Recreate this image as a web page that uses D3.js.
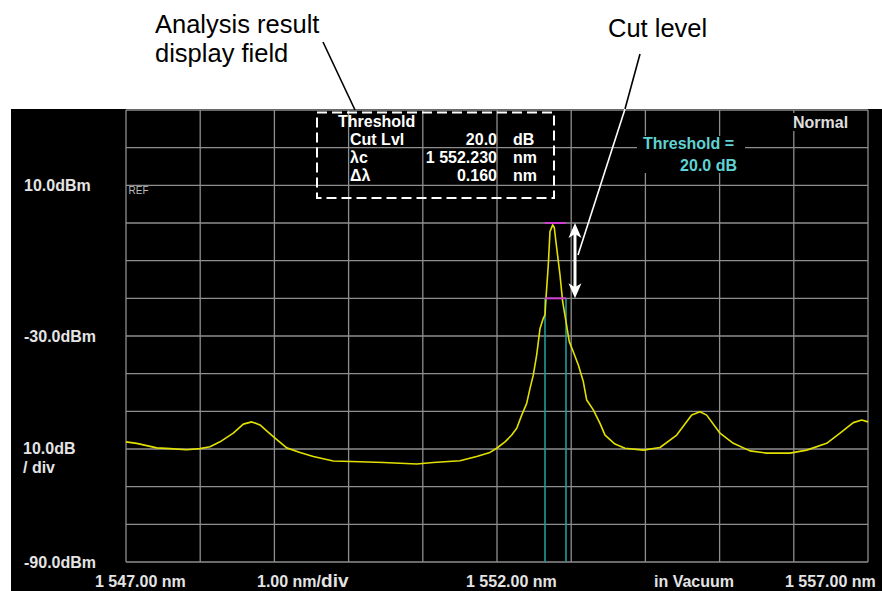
<!DOCTYPE html>
<html>
<head>
<meta charset="utf-8">
<script src="https://cdn.jsdelivr.net/npm/d3@7/dist/d3.min.js"></script>
<style>
  html, body { margin: 0; padding: 0; background: #fff; }
  svg { display: block; font-family: "Liberation Sans", Arial, sans-serif; }
</style>
</head>
<body>
<svg id="chart" width="882" height="591"></svg>
<script>
// ---- data ----
const wavelength = [
  1547.000, 1547.144, 1547.414, 1547.593, 1547.818, 1547.997, 1548.132, 1548.267,
  1548.446, 1548.581, 1548.694, 1548.806, 1548.896, 1548.985, 1549.166, 1549.345,
  1549.524, 1549.794, 1550.154, 1550.468, 1550.918, 1551.141, 1551.501, 1551.726,
  1551.906, 1551.996, 1552.108, 1552.198, 1552.266, 1552.333, 1552.400, 1552.445,
  1552.489, 1552.535, 1552.580, 1552.624, 1552.647, 1552.660, 1552.691, 1552.714,
  1552.751, 1552.772, 1552.805, 1552.849, 1552.885, 1552.930, 1552.974, 1553.028,
  1553.096, 1553.163, 1553.209, 1553.298, 1553.388, 1553.456, 1553.590, 1553.725,
  1553.972, 1554.197, 1554.422, 1554.624, 1554.736, 1554.826, 1555.005, 1555.185,
  1555.410, 1555.635, 1555.949, 1556.174, 1556.443, 1556.623, 1556.802, 1556.915,
  1557.000
];
const power = [
  -58.1, -58.5, -59.7, -59.9, -60.2, -59.9, -59.4, -58.1,
  -55.8, -53.4, -52.8, -53.6, -55.2, -56.7, -59.7, -60.9,
  -62.0, -63.2, -63.4, -63.6, -64.0, -63.6, -63.1, -62.0,
  -60.9, -59.8, -58.1, -56.3, -54.5, -51.0, -47.9, -43.9,
  -40.4, -35.0, -28.0, -25.3, -24.4, -20.0, -11.2, -2.3,
  -0.5, -1.2, -6.7, -13.8, -20.9, -26.2, -31.5, -34.2,
  -37.7, -42.1, -47.0, -49.6, -53.2, -56.3, -58.7, -59.8,
  -60.3, -59.6, -56.3, -51.0, -50.1, -51.0, -55.8, -58.5,
  -60.5, -61.1, -61.1, -60.3, -58.5, -55.8, -53.0, -52.3,
  -52.8
];
const xDomain = [1547, 1557];
const yDomain = [-90, 30];
const peakLevel = 0.0;        // dBm, top marker
const cutLevel = 20.0;        // dB
const edgeWavelengths = [1552.647, 1552.930];
const arrowWavelength = 1553.051;

const yLabels = [
  { v: 10, text: "10.0dBm" },
  { v: -30, text: "-30.0dBm" },
  { v: -90, text: "-90.0dBm" }
];
const xLabels = [
  { x: 95, text: "1 547.00 nm" },
  { x: 466, text: "1 552.00 nm" },
  { x: 654, text: "in Vacuum" },
  { x: 785, text: "1 557.00 nm" }
];
const infoRows = [
  { label: "Cut Lvl", value: "20.0", unit: "dB" },
  { label: "\u03bbc", value: "1 552.230", unit: "nm" },
  { label: "\u0394\u03bb", value: "0.160", unit: "nm" }
];

// ---- drawing ----
const svg = d3.select("#chart");
const x = d3.scaleLinear().domain(xDomain).range([126, 868]);
const y = d3.scaleLinear().domain(yDomain).range([562, 110]);

// instrument panel
svg.append("rect").attr("x", 11).attr("y", 109).attr("width", 871).attr("height", 482).attr("fill", "#000");

// grid
const grid = svg.append("g").attr("stroke", "#8e8e8e").attr("stroke-width", 1.3);
d3.range(xDomain[0], xDomain[1] + 0.001, 1).forEach(v => {
  grid.append("line").attr("x1", x(v)).attr("x2", x(v)).attr("y1", y(yDomain[1])).attr("y2", y(yDomain[0]));
});
d3.range(yDomain[0], yDomain[1] + 0.001, 10).forEach(v => {
  grid.append("line").attr("x1", x(xDomain[0])).attr("x2", x(xDomain[1])).attr("y1", y(v)).attr("y2", y(v));
});

// REF label
svg.append("text").attr("x", 128.5).attr("y", y(10) + 9).attr("fill", "#bdbdbd")
  .attr("font-size", 10).text("REF");

// y labels
yLabels.forEach(d => {
  svg.append("text").attr("x", 24).attr("y", y(d.v) + 6).attr("fill", "#e4e4e4")
    .attr("font-size", 16).attr("font-weight", "bold").text(d.text);
});
svg.append("text").attr("x", 23).attr("y", y(-60) + 5).attr("fill", "#e4e4e4")
  .attr("font-size", 16).attr("font-weight", "bold").text("10.0dB");
svg.append("text").attr("x", 23).attr("y", y(-60) + 24).attr("fill", "#e4e4e4")
  .attr("font-size", 16).attr("font-weight", "bold").text("/ div");

// x labels
xLabels.forEach(d => {
  svg.append("text").attr("x", d.x).attr("y", 587).attr("fill", "#e4e4e4")
    .attr("font-size", 16).attr("font-weight", "bold").text(d.text);
});
const divLbl = svg.append("text").attr("x", 257).attr("y", 587).attr("fill", "#e4e4e4")
  .attr("font-size", 16).attr("font-weight", "bold");
divLbl.append("tspan").text("1.00 nm/");
divLbl.append("tspan").attr("font-size", 19).text("div");

// edge lines (cyan)
edgeWavelengths.forEach(w => {
  svg.append("line").attr("x1", x(w)).attr("x2", x(w))
    .attr("y1", y(peakLevel - cutLevel)).attr("y2", y(yDomain[0]))
    .attr("stroke", "#1f9c9c").attr("stroke-width", 1.6);
});

// spectrum trace
const line = d3.line().x((d, i) => x(wavelength[i])).y(d => y(d));
svg.append("path").datum(power).attr("d", line).attr("fill", "none")
  .attr("stroke", "#e2e000").attr("stroke-width", 1.6).attr("stroke-linejoin", "round");

// magenta markers
[peakLevel, peakLevel - cutLevel].forEach(v => {
  svg.append("line").attr("x1", x(edgeWavelengths[0])).attr("x2", x(edgeWavelengths[1]))
    .attr("y1", y(v)).attr("y2", y(v)).attr("stroke", "#d040d0").attr("stroke-width", 2);
});

// double arrow
const ax = x(arrowWavelength), ay1 = y(peakLevel), ay2 = y(peakLevel - cutLevel);
svg.append("line").attr("x1", ax).attr("x2", ax).attr("y1", ay1 + 10).attr("y2", ay2 - 10)
  .attr("stroke", "#fff").attr("stroke-width", 3);
svg.append("path").attr("fill", "#fff")
  .attr("d", `M${ax},${ay1} L${ax - 6.5},${ay1 + 15} L${ax},${ay1 + 11} L${ax + 6.5},${ay1 + 15} Z`);
svg.append("path").attr("fill", "#fff")
  .attr("d", `M${ax},${ay2} L${ax - 6.5},${ay2 - 15} L${ax},${ay2 - 11} L${ax + 6.5},${ay2 - 15} Z`);

// analysis result box
svg.append("rect").attr("x", 317).attr("y", 112.5).attr("width", 237).attr("height", 85.5)
  .attr("fill", "none").attr("stroke", "#fff").attr("stroke-width", 2)
  .attr("stroke-dasharray", "10,5");
svg.append("text").attr("x", 338).attr("y", 127).attr("fill", "#fff")
  .attr("font-size", 16).attr("font-weight", "bold").text("Threshold");
infoRows.forEach((r, i) => {
  const by = 145 + i * 18;
  svg.append("text").attr("x", 350).attr("y", by).attr("fill", "#fff")
    .attr("font-size", 16).attr("font-weight", "bold").text(r.label);
  svg.append("text").attr("x", 497).attr("y", by).attr("fill", "#fff").attr("text-anchor", "end")
    .attr("font-size", 16).attr("font-weight", "bold").text(r.value);
  svg.append("text").attr("x", 513).attr("y", by).attr("fill", "#fff")
    .attr("font-size", 16).attr("font-weight", "bold").text(r.unit);
});

// threshold label (cyan) with black background
svg.append("rect").attr("x", 637).attr("y", 136).attr("width", 108).attr("height", 37).attr("fill", "#000");
svg.append("text").attr("x", 643).attr("y", 149).attr("fill", "#5fd3d3")
  .attr("font-size", 16).attr("font-weight", "bold").text("Threshold =");
svg.append("text").attr("x", 737).attr("y", 171).attr("fill", "#5fd3d3").attr("text-anchor", "end")
  .attr("font-size", 16).attr("font-weight", "bold").text(cutLevel.toFixed(1) + " dB");

// Normal label
svg.append("rect").attr("x", 790).attr("y", 113).attr("width", 63).attr("height", 18).attr("fill", "#000");
svg.append("text").attr("x", 793).attr("y", 128).attr("fill", "#dedede")
  .attr("font-size", 16).attr("font-weight", "bold").text("Normal");

// callout annotations (outside panel)
svg.append("text").attr("x", 155).attr("y", 33).attr("fill", "#000").attr("font-size", 25.5).text("Analysis result");
svg.append("text").attr("x", 155).attr("y", 62).attr("fill", "#000").attr("font-size", 25.5).text("display field");
svg.append("line").attr("x1", 323).attr("y1", 42).attr("x2", 355).attr("y2", 110)
  .attr("stroke", "#000").attr("stroke-width", 1.6);
svg.append("text").attr("x", 608).attr("y", 37).attr("fill", "#000").attr("font-size", 25.5).text("Cut level");
svg.append("line").attr("x1", 640).attr("y1", 54).attr("x2", 625).attr("y2", 109)
  .attr("stroke", "#000").attr("stroke-width", 1.6);
svg.append("line").attr("x1", 625).attr("y1", 109).attr("x2", 578).attr("y2", 255)
  .attr("stroke", "#fff").attr("stroke-width", 1.6);
</script>
</body>
</html>
